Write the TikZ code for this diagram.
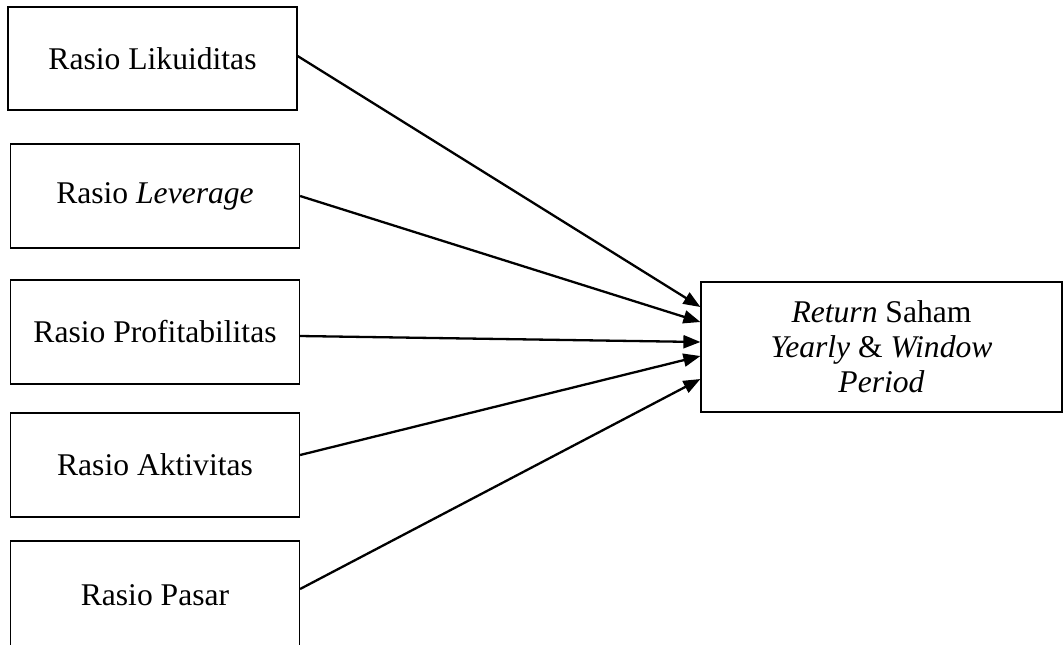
\documentclass[tikz,border=0pt]{standalone}
\usepackage{fontspec}
\setmainfont{Liberation Serif}
\usetikzlibrary{arrows.meta}
\begin{document}
\begin{tikzpicture}[x=0.5pt,y=-0.5pt,
  lbox/.style={draw, line width=0.6pt, inner sep=0pt, minimum width=144.5pt, minimum height=52pt, align=center, font=\fontsize{15.8}{17.5}\selectfont},
  rbox/.style={draw, line width=0.6pt, inner sep=0pt, minimum width=180.5pt, minimum height=65pt, align=center, font=\fontsize{15.8}{17.5}\selectfont},
  conn/.style={line width=1.15pt, -{Triangle[length=8.5pt,width=6.5pt]}}]
\useasboundingbox (0,0) rectangle (1064,644);
\node[lbox, minimum width=144.5pt, minimum height=51.5pt] (b1) at (152.5,58.5) {Rasio Likuiditas};
\node[lbox] (b2) at (155,196) {Rasio \textit{Leverage}};
\node[lbox] (b3) at (155,332) {Rasio Profitabilitas};
\node[lbox] (b4) at (155,465) {Rasio Aktivitas};
\node[lbox, minimum height=54pt] (b5) at (155,595) {Rasio Pasar};
\node[rbox] (r) at (881.5,347) {\textit{Return} Saham\\\textit{Yearly} \& \textit{Window}\\\textit{Period}};
\draw[conn] ([yshift=1.25pt]b1.east) -- ([yshift=20pt]r.west);
\draw[conn] (b2.east) -- ([yshift=12.5pt]r.west);
\draw[conn] ([yshift=-2pt]b3.east) -- ([yshift=2.5pt]r.west);
\draw[conn] ([yshift=5pt]b4.east) -- ([yshift=-4.5pt]r.west);
\draw[conn] ([yshift=3pt]b5.east) -- ([yshift=-16pt]r.west);
\end{tikzpicture}
\end{document}
